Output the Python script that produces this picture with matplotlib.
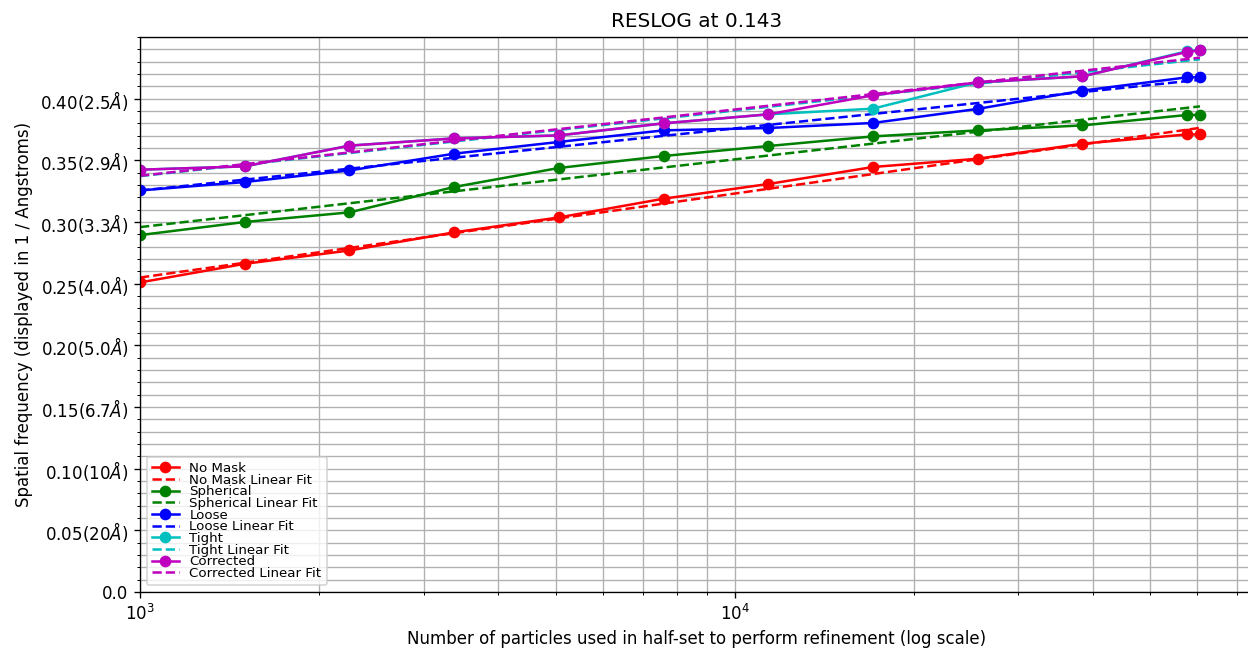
import numpy as np
import matplotlib
matplotlib.use("Agg")
import matplotlib.pyplot as plt
from matplotlib.ticker import MultipleLocator

# Particle counts per half-set (log-spaced subsets plus the full set)
particles = [1000, 1500, 2250, 3375, 5062, 7593, 11390, 17085, 25628, 38443, 57665, 60600]

# Resolution at FSC 0.143, in 1/Angstrom, for each mask type
no_mask = [0.2510, 0.2661, 0.2769, 0.2916, 0.3037, 0.3189, 0.3308, 0.3446, 0.3513, 0.3635, 0.3710, 0.3710]
spherical = [0.2894, 0.3000, 0.3078, 0.3284, 0.3438, 0.3535, 0.3616, 0.3694, 0.3743, 0.3783, 0.3868, 0.3868]
loose = [0.3256, 0.3324, 0.3418, 0.3554, 0.3649, 0.3743, 0.3762, 0.3803, 0.3917, 0.4065, 0.4173, 0.4173]
tight = [0.3424, 0.3451, 0.3619, 0.3678, 0.3702, 0.3800, 0.3873, 0.3919, 0.4132, 0.4181, 0.4385, 0.4395]
corrected = [0.3424, 0.3451, 0.3619, 0.3678, 0.3702, 0.3800, 0.3873, 0.4027, 0.4132, 0.4181, 0.4379, 0.4392]

series = [
    ("No Mask", no_mask, "r"),
    ("Spherical", spherical, "g"),
    ("Loose", loose, "b"),
    ("Tight", tight, "c"),
    ("Corrected", corrected, "m"),
]

ytick_vals = [0.0, 0.05, 0.10, 0.15, 0.20, 0.25, 0.30, 0.35, 0.40]
ytick_labels = ["0.0", r"0.05(20$\AA$)", r"0.10(10$\AA$)", r"0.15(6.7$\AA$)",
                r"0.20(5.0$\AA$)", r"0.25(4.0$\AA$)", r"0.30(3.3$\AA$)",
                r"0.35(2.9$\AA$)", r"0.40(2.5$\AA$)"]

DPI = 120
fig = plt.figure(figsize=(1248 / DPI, 649 / DPI), dpi=DPI)
ax = fig.add_axes([0.1122, 0.0878, 0.8918, 0.8552])

x = np.array(particles, dtype=float)
logx = np.log10(x)
for name, vals, col in series:
    y = np.array(vals)
    ax.plot(x, y, "-o", color=col, label=name)
    slope, icpt = np.polyfit(logx, y, 1)
    ax.plot(x, slope * logx + icpt, "--", color=col, label=name + " Linear Fit")

ax.set_xscale("log")
ax.set_xlim(left=1000)
ax.set_ylim(0, 0.45)
ax.set_yticks(ytick_vals)
ax.set_yticklabels(ytick_labels)
ax.yaxis.set_minor_locator(MultipleLocator(0.01))
ax.grid(True, which="both", color="#b0b0b0", lw=0.8)
ax.set_axisbelow(True)

ax.set_title("RESLOG at 0.143")
ax.set_xlabel("Number of particles used in half-set to perform refinement (log scale)")
ax.set_ylabel("Spatial frequency (displayed in 1 / Angstroms)")
ax.legend(loc="lower left", fontsize=8, labelspacing=-0.1)

fig.savefig("out.png", dpi=DPI)
